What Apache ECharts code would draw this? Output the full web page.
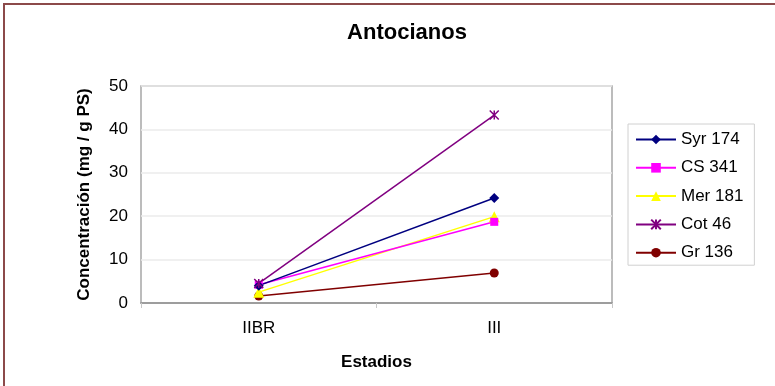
<!DOCTYPE html>
<html>
<head>
<meta charset="utf-8">
<script src="https://cdn.jsdelivr.net/npm/echarts@6/dist/echarts.min.js"></script>
<style>
  html, body { margin: 0; padding: 0; background: #fff; }
  #chart { width: 775px; height: 386px; }
</style>
</head>
<body>
<div id="chart"></div>
<script>
// Ripening stages and anthocyanin concentration per variety (mg / g PS)
const stages = ['IIBR', 'III'];
const syr174 = [4.0, 24.2];
const cs341 = [4.2, 18.7];
const mer181 = [2.5, 19.9];
const cot46 = [4.5, 43.3];
const gr136 = [1.6, 6.9];
const yTicks = [0, 10, 20, 30, 40, 50];

const FONT = 'Liberation Sans, Arial, sans-serif';
// asterisk marker drawn as stroked strokes
const asterisk = 'path://M0,0L10,10M10,0L0,10M5,0L5,10';

function makeSeries(name, data, color, symbol, size, stroke) {
  return {
    name: name,
    type: 'line',
    data: data,
    symbol: symbol,
    symbolSize: size,
    lineStyle: { color: color, width: 1.5 },
    itemStyle: stroke
      ? { color: 'rgba(0,0,0,0)', borderColor: color, borderWidth: 1.5 }
      : { color: color, borderColor: color, borderWidth: 0 },
    emphasis: { disabled: true },
    animation: false
  };
}

const chart = echarts.init(document.getElementById('chart'));
chart.setOption({
  backgroundColor: '#fff',
  animation: false,
  title: {
    text: 'Antocianos',
    left: 402, textAlign: 'center', top: 17,
    textStyle: { fontFamily: FONT, fontSize: 22, fontWeight: 'bold', color: '#000' }
  },
  grid: {
    left: 141, right: 163, top: 86, bottom: 83,
    show: true, borderColor: '#a6a6a6', borderWidth: 1.5, backgroundColor: '#fff'
  },
  legend: {
    orient: 'vertical',
    left: 628, top: 124,
    padding: [7, 11, 4, 7],
    itemGap: 11.3,
    itemWidth: 40, itemHeight: 12,
    borderColor: '#d0d0d0', borderWidth: 1,
    backgroundColor: '#fff',
    textStyle: { fontFamily: FONT, fontSize: 17, color: '#000' },
    data: ['Syr 174', 'CS 341', 'Mer 181', 'Cot 46', 'Gr 136']
  },
  xAxis: {
    type: 'category',
    data: stages,
    boundaryGap: true,
    name: 'Estadios',
    nameLocation: 'middle',
    nameGap: 51,
    nameTextStyle: { fontFamily: FONT, fontSize: 17, fontWeight: 'bold', color: '#000' },
    axisLine: { lineStyle: { color: '#888', width: 1.5 } },
    axisTick: { show: true, length: 5, lineStyle: { color: '#c8c8c8' } },
    axisLabel: { fontFamily: FONT, fontSize: 17, color: '#000', margin: 17 }
  },
  yAxis: {
    type: 'value',
    min: yTicks[0], max: yTicks[yTicks.length - 1], interval: 10,
    name: 'Concentración (mg / g PS)',
    nameLocation: 'middle',
    nameGap: 48,
    nameRotate: 90,
    nameTextStyle: { fontFamily: FONT, fontSize: 17, fontWeight: 'bold', color: '#000' },
    axisLine: { show: false },
    axisTick: { show: false },
    splitLine: { lineStyle: { color: '#ebebeb', width: 1.5 } },
    axisLabel: { fontFamily: FONT, fontSize: 17, color: '#000', margin: 13 }
  },
  series: [
    makeSeries('Gr 136', gr136, '#800000', 'circle', 9, false),
    makeSeries('Mer 181', mer181, '#ffff00', 'triangle', 11, false),
    makeSeries('CS 341', cs341, '#ff00ff', 'rect', 8, false),
    makeSeries('Syr 174', syr174, '#000080', 'diamond', 10, false),
    makeSeries('Cot 46', cot46, '#800080', asterisk, 9, true)
  ],
  graphic: [
    { type: 'line', shape: { x1: 3, y1: 4, x2: 775, y2: 4 }, style: { stroke: '#8c4a4a', lineWidth: 2 }, silent: true },
    { type: 'line', shape: { x1: 4, y1: 3, x2: 4, y2: 386 }, style: { stroke: '#8c4a4a', lineWidth: 2 }, silent: true }
  ]
});
</script>
</body>
</html>
